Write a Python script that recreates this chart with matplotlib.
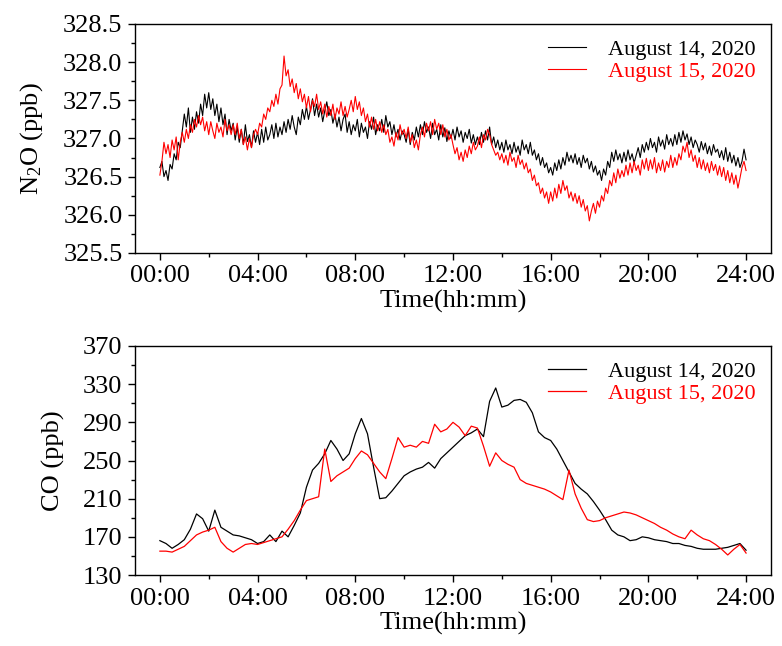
import numpy as np
import matplotlib
matplotlib.use("Agg")
import matplotlib.pyplot as plt
from matplotlib.ticker import MultipleLocator, FormatStrFormatter

plt.rcParams['font.family'] = ['Liberation Serif', 'DejaVu Serif']
plt.rcParams['mathtext.fontset'] = 'custom'
plt.rcParams['mathtext.rm'] = 'Liberation Serif'
plt.rcParams['mathtext.it'] = 'Liberation Serif:italic'

LABELS = ["August 14, 2020", "August 15, 2020"]
COLORS = ["black", "red"]
TICK_HOURS = [0, 4, 8, 12, 16, 20, 24]
TICK_LABELS = ["00:00", "04:00", "08:00", "12:00", "16:00", "20:00", "24:00"]

# N2O (ppb), one reading every 5 minutes, 00:00 .. 24:00 (one row per hour)
n2o_aug14 = [
    326.62, 326.70, 326.50, 326.58, 326.45, 326.66, 326.60, 326.80, 326.72, 326.95, 326.88, 327.10,
    327.32, 327.15, 327.40, 327.08, 327.28, 327.12, 327.35, 327.20, 327.45, 327.30, 327.58, 327.40,
    327.60, 327.38, 327.52, 327.30, 327.45, 327.22, 327.40, 327.18, 327.32, 327.05, 327.25, 327.10,
    327.20, 326.98, 327.15, 326.95, 327.12, 326.92, 327.18, 326.96, 327.05, 326.88, 327.10, 326.95,
    327.08, 326.92, 327.12, 326.95, 327.15, 326.98, 327.05, 327.18, 327.00, 327.20, 327.02, 327.15,
    327.05, 327.22, 327.08, 327.25, 327.12, 327.30, 327.15, 327.05, 327.28, 327.18, 327.38, 327.25,
    327.42, 327.25, 327.38, 327.52, 327.30, 327.45, 327.28, 327.40, 327.22, 327.36, 327.48, 327.30,
    327.38, 327.20, 327.32, 327.15, 327.28, 327.10, 327.25, 327.32, 327.08, 327.22, 327.05, 327.18,
    327.10, 327.25, 327.02, 327.20, 327.08, 327.15, 327.00, 327.22, 327.12, 327.28, 327.05, 327.18,
    327.10, 327.25, 327.08, 327.30, 327.15, 327.22, 327.05, 327.18, 327.02, 327.12, 326.98, 327.10,
    327.05, 326.95, 327.12, 326.92, 327.08, 326.98, 327.15, 327.02, 327.18, 327.05, 327.22, 327.08,
    327.15, 327.00, 327.20, 327.05, 327.12, 326.98, 327.18, 327.02, 327.14, 326.96, 327.10, 327.00,
    327.12, 326.98, 327.15, 327.02, 327.10, 326.95, 327.08, 327.00, 327.12, 326.94, 327.05, 326.92,
    327.02, 326.92, 327.08, 326.95, 327.10, 326.98, 327.15, 326.92, 327.02, 326.88, 326.98, 326.85,
    326.95, 326.82, 326.98, 326.85, 326.92, 326.80, 326.95, 326.82, 326.90, 326.78, 326.98, 326.85,
    326.92, 326.80, 326.95, 326.78, 326.85, 326.72, 326.80, 326.65, 326.75, 326.62, 326.68, 326.55,
    326.62, 326.52, 326.68, 326.58, 326.72, 326.60, 326.75, 326.65, 326.82, 326.70, 326.78, 326.68,
    326.80, 326.66, 326.75, 326.62, 326.78, 326.68, 326.74, 326.60, 326.70, 326.56, 326.64, 326.52,
    326.58, 326.45, 326.60, 326.52, 326.70, 326.62, 326.82, 326.70, 326.85, 326.72, 326.80, 326.68,
    326.82, 326.70, 326.85, 326.72, 326.80, 326.68, 326.78, 326.88, 326.75, 326.92, 326.82, 326.95,
    326.85, 327.00, 326.88, 326.95, 326.82, 327.02, 326.90, 326.98, 326.86, 327.05, 326.92, 327.00,
    326.90, 327.05, 326.92, 327.08, 326.95, 327.10, 326.98, 327.06, 326.92, 327.02, 326.88, 326.98,
    326.92, 326.82, 326.96, 326.85, 326.94, 326.80, 326.90, 326.78, 326.92, 326.82, 326.86, 326.75,
    326.84, 326.72, 326.88, 326.70, 326.82, 326.68, 326.78, 326.64, 326.75, 326.62, 326.70, 326.86,
    326.72,
]
n2o_aug15 = [
    326.52, 326.70, 326.95, 326.80, 326.92, 326.75, 326.98, 326.85, 327.02, 326.72, 326.95, 327.08,
    326.95, 327.12, 327.00, 327.18, 327.08, 327.25, 327.15, 327.30, 327.18, 327.28, 327.10, 327.22,
    327.05, 327.22, 327.10, 327.00, 327.20, 327.08, 327.15, 327.02, 327.25, 327.10, 327.18, 327.05,
    327.18, 327.05, 327.20, 327.00, 327.12, 326.92, 327.02, 326.85, 327.00, 326.88, 327.05, 327.12,
    327.05, 327.20, 327.15, 327.32, 327.25, 327.40, 327.35, 327.50, 327.42, 327.58, 327.45, 327.65,
    327.70, 328.08, 327.82, 327.90, 327.68, 327.78, 327.60, 327.72, 327.52, 327.65, 327.48, 327.58,
    327.40, 327.55, 327.35, 327.50, 327.42, 327.58, 327.38, 327.48, 327.32, 327.45, 327.28, 327.42,
    327.30, 327.45, 327.25, 327.40, 327.32, 327.48, 327.30, 327.42, 327.28, 327.38, 327.50, 327.35,
    327.55, 327.38, 327.48, 327.30, 327.40, 327.22, 327.32, 327.15, 327.28, 327.12, 327.25, 327.10,
    327.22, 327.08, 327.18, 327.05, 327.12, 326.95, 327.02, 326.90, 327.08, 326.98, 327.18, 327.05,
    327.12, 327.00, 327.15, 326.95, 327.05, 326.88, 326.98, 326.85, 327.05, 327.15, 327.02, 327.20,
    327.10, 327.22, 327.05, 327.25, 327.12, 327.20, 327.05, 327.18, 327.02, 327.12, 326.98, 327.05,
    326.92, 326.80, 326.88, 326.72, 326.82, 326.70, 326.85, 326.75, 326.90, 326.80, 326.95, 326.85,
    326.90, 327.02, 326.88, 327.05, 326.98, 327.12, 327.05, 326.92, 326.85, 326.78, 326.82, 326.72,
    326.80, 326.68, 326.78, 326.65, 326.82, 326.70, 326.75, 326.62, 326.78, 326.66, 326.72, 326.60,
    326.68, 326.55, 326.60, 326.45, 326.52, 326.38, 326.42, 326.28, 326.35, 326.22, 326.30, 326.15,
    326.30, 326.18, 326.35, 326.22, 326.40, 326.28, 326.45, 326.32, 326.38, 326.22, 326.30, 326.18,
    326.28, 326.15, 326.25, 326.10, 326.20, 326.05, 326.12, 325.92, 326.05, 326.15, 326.02, 326.18,
    326.10, 326.25, 326.18, 326.35, 326.28, 326.45, 326.38, 326.55, 326.42, 326.60, 326.48, 326.58,
    326.50, 326.65, 326.52, 326.68, 326.55, 326.70, 326.58, 326.65, 326.52, 326.72, 326.60, 326.74,
    326.58, 326.72, 326.60, 326.75, 326.55, 326.68, 326.58, 326.72, 326.56, 326.70, 326.62, 326.78,
    326.62, 326.75, 326.65, 326.80, 326.72, 326.90, 326.82, 326.95, 326.75, 326.85, 326.70, 326.78,
    326.62, 326.75, 326.60, 326.72, 326.58, 326.68, 326.55, 326.70, 326.58, 326.66, 326.52, 326.64,
    326.50, 326.62, 326.45, 326.58, 326.42, 326.55, 326.40, 326.52, 326.35, 326.48, 326.62, 326.70,
    326.58,
]

# CO (ppb), one reading every 15 minutes, 00:00 .. 24:00
co_aug14 = [
    166, 163, 158, 162, 167, 178, 194, 189, 176, 198, 180, 176,
    172, 171, 169, 167, 163, 165, 172, 165, 176, 170, 182, 195,
    222, 240, 247, 257, 271, 262, 250, 257, 278, 294, 278, 243,
    210, 211, 218, 226, 234, 238, 241, 243, 248, 242, 252, 258,
    264, 270, 276, 279, 283, 275, 312, 326, 306, 308, 313, 314,
    311, 300, 280, 274, 271, 262, 250, 238, 226, 220, 215, 207,
    198, 188, 177, 172, 170, 166, 167, 170, 169, 167, 166, 165,
    163, 163, 161, 160, 158, 157, 157, 157, 158, 159, 161, 163,
    156,
]
co_aug15 = [
    155, 155, 154, 157, 160, 166, 172, 175, 177, 180, 165, 158,
    154, 158, 162, 163, 162, 164, 166, 168, 170, 178, 187, 198,
    208, 210, 212, 262, 228, 234, 238, 242, 252, 260, 256, 247,
    238, 231, 252, 274, 264, 266, 264, 270, 268, 288, 280, 283,
    290, 285, 276, 286, 284, 265, 244, 258, 250, 246, 243, 230,
    226, 224, 222, 220, 217, 213, 209, 240, 215, 200, 188, 186,
    187, 190, 192, 194, 196, 195, 193, 190, 187, 184, 180, 177,
    173, 170, 168, 177, 172, 168, 166, 162, 157, 151, 157, 162,
    153,
]

t_n2o = np.arange(len(n2o_aug14)) / 12.0
t_n2o_b = np.arange(len(n2o_aug15)) / 12.0
t_co = np.arange(len(co_aug14)) / 4.0

fig = plt.figure(figsize=(7.82, 6.46), dpi=100)
ax1 = fig.add_axes([0.1726, 0.6084, 0.8133, 0.3545])
ax2 = fig.add_axes([0.1726, 0.1099, 0.8133, 0.3545])


def style_axis(ax, ylabel, yticks, yminor, fmt):
    ax.set_xlim(-1.02, 25.02)
    ax.set_xticks(TICK_HOURS)
    ax.set_xticklabels(TICK_LABELS)
    ax.xaxis.set_minor_locator(MultipleLocator(2))
    ax.set_ylim(yticks[0], yticks[-1])
    ax.set_yticks(yticks)
    ax.set_yticks(yminor, minor=True)
    ax.yaxis.set_major_formatter(FormatStrFormatter(fmt))
    ax.tick_params(which='major', length=5, width=1, labelsize=19, pad=4)
    ax.tick_params(which='minor', length=3, width=1)
    ax.tick_params(axis='x', which='both', top=False)
    ax.tick_params(axis='y', which='both', right=False)
    for s in ax.spines.values():
        s.set_linewidth(1)
    ax.set_xlabel("Time(hh:mm)", fontsize=19, labelpad=2)
    ax.set_ylabel(ylabel, fontsize=19, labelpad=13)
    leg = ax.legend(loc='upper right', frameon=False, fontsize=16,
                    handlelength=1.7, handletextpad=1.0, labelspacing=0.05,
                    borderaxespad=0.3)
    for txt, c in zip(leg.get_texts(), COLORS):
        txt.set_color(c)


ax1.plot(t_n2o, n2o_aug14, color=COLORS[0], lw=0.8, label=LABELS[0])
ax1.plot(t_n2o_b, n2o_aug15, color=COLORS[1], lw=0.8, label=LABELS[1])
style_axis(ax1, "N$_2$O (ppb)", np.arange(325.5, 328.51, 0.5),
           np.arange(325.75, 328.5, 0.5), "%.1f")

ax2.plot(t_co, co_aug14, color=COLORS[0], lw=0.9, label=LABELS[0])
ax2.plot(t_co, co_aug15, color=COLORS[1], lw=0.9, label=LABELS[1])
style_axis(ax2, "CO (ppb)", np.arange(130, 371, 40),
           np.arange(150, 370, 40), "%d")

fig.savefig("out.png", dpi=100)
